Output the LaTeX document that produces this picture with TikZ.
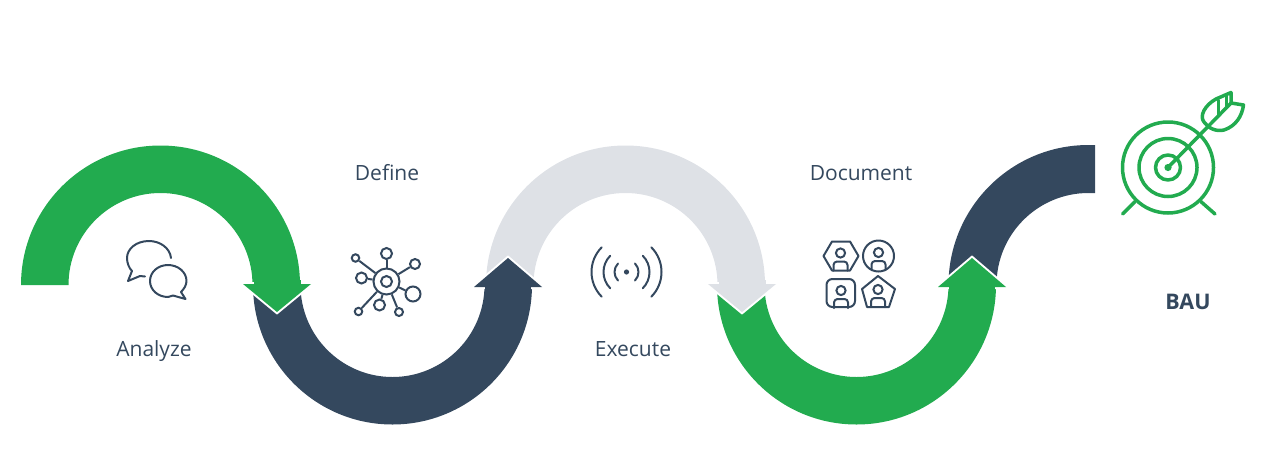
\documentclass[tikz,border=0pt]{standalone}
\usepackage{fontspec}
\setmainfont{Open Sans}
\definecolor{navy}{HTML}{34485E}
\definecolor{leaf}{HTML}{22AB4F}
\definecolor{mist}{HTML}{DEE1E6}
\tikzset{
  label text/.style={text=navy,font=\fontsize{21}{25}\selectfont,inner sep=0pt},
  icon/.style={draw=navy,line width=2pt,line cap=round,line join=round,fill=none},
  hub/.style={circle,draw=navy,line width=2pt,inner sep=0pt,fill=white},
  goal/.style={draw=leaf,line width=3.5pt,line cap=round,line join=round},
}
% #1 colour, #2 centre x, #3 +1 over the top / -1 under the bottom
\newcommand{\bendband}[3]{\fill[#1] (#2-139.5,285) arc[start angle=180,delta angle=#3*180,radius=139.5] -- (#2+92,285) arc[start angle=0,delta angle=#3*(-180),radius=92] -- cycle;}
\newcommand{\headdown}[2]{\path[draw=white,line width=4pt,line join=miter] (#2-34,284) -- (#2,312) -- (#2+34,284) -- cycle;
  \fill[#1] (#2-34,284) -- (#2,312) -- (#2+34,284) -- cycle;
  \fill[#1] (#2-23.5,280) rectangle (#2+23.5,286);}
\newcommand{\headup}[2]{\path[draw=white,line width=4pt,line join=miter] (#2-34,287) -- (#2,258) -- (#2+34,287) -- cycle;
  \fill[#1] (#2-34,287) -- (#2,258) -- (#2+34,287) -- cycle;
  \fill[#1] (#2-23,285) rectangle (#2+23,291);}
\newcommand{\person}[2]{\draw[icon] (#1,#2) circle[radius=4.6];
  \draw[icon] (#1-7,#2+17.6) -- (#1-7,#2+12) arc[start angle=180,end angle=270,radius=3.5] -- (#1+3.5,#2+8.5) arc[start angle=270,end angle=360,radius=3.5] -- (#1+7,#2+17.6);}
\begin{document}
\begin{tikzpicture}[x=1pt,y=-1pt]
\useasboundingbox (0,0) rectangle (1271,469);
% bands
\bendband{mist}{625.5}{1}
\bendband{navy}{392.5}{-1}
\bendband{leaf}{856.5}{-1}
\bendband{leaf}{160.5}{1}
\fill[navy] (948.5,285) arc[start angle=180,end angle=270,radius=140] -- (1095,145) -- (1095,193) -- (1088.5,193) arc[start angle=270,end angle=180,radius=92] -- cycle;
\headdown{leaf}{277}
\headup{navy}{508}
\headdown{mist}{742}
\headup{leaf}{972}
% labels
\node[label text] (analyze) at (154,351) {Analyze};
\node[label text] (define) at (387,173) {Define};
\node[label text] (execute) at (633,349) {Execute};
\node[label text] (document) at (861,173) {Document};
\node[label text,font=\fontsize{21.5}{25}\selectfont\bfseries] (bau) at (1188,302) {BAU};
% chat icon
\draw[icon] (171,258) .. controls (170,248) and (160,241) .. (149,241)
  .. controls (136,241) and (127,249) .. (127,258)
  .. controls (127,263) and (129,268) .. (132,271)
  -- (128,281) -- (140,276) -- (145,276.5);
\draw[icon] (168,265) .. controls (178,265) and (186.5,272) .. (186.5,281)
  .. controls (186.5,285) and (184,289) .. (181,292)
  -- (185.5,299) -- (173,295.5)
  .. controls (171,296.5) and (170,297) .. (168,297)
  .. controls (158,297) and (150,290) .. (150,281)
  .. controls (150,272) and (158,265) .. (168,265) -- cycle;
% network icon
\node[hub,minimum size=26pt] (nc) at (386.5,281.5) {};
\node[hub,minimum size=11pt] (nc2) at (386.5,281.5) {};
\node[hub,minimum size=11pt] (n1) at (386.5,253.5) {};
\node[hub,minimum size=10pt] (n2) at (415,264) {};
\node[hub,minimum size=15pt] (n3) at (413,294) {};
\node[hub,minimum size=8pt] (n4) at (399,312) {};
\node[hub,minimum size=11pt] (n5) at (379.5,305) {};
\node[hub,minimum size=7.5pt] (n6) at (358.5,311.5) {};
\node[hub,minimum size=11pt] (n7) at (361.5,278) {};
\node[hub,minimum size=7.5pt] (n8) at (355.5,258) {};
\foreach \n in {n1,n2,n3,n4,n5,n6,n7,n8} \draw[icon,line cap=butt] (nc) -- (\n);
% signal icon
\fill[navy] (626.5,272) circle[radius=2.6];
\foreach \r in {12,23,35}{
  \draw[icon] (626.5,272) ++(135:\r) arc[start angle=135,end angle=225,radius=\r];
  \draw[icon] (626.5,272) ++(-45:\r) arc[start angle=-45,end angle=45,radius=\r];
}
% people icon
\draw[icon] (823.5,256) -- (832,241.5) -- (850,241.5) -- (858.5,256) -- (850,270.5) -- (832,270.5) -- cycle;
\draw[icon] (878.5,256) circle[radius=15.5];
\draw[icon,rounded corners=6pt] (826.5,279) rectangle (855,307);
\draw[icon] (878,276) -- (895,289) -- (889,307) -- (867,307) -- (862,289) -- cycle;
\person{840.5}{253}
\person{878.5}{252.5}
\person{841}{290.5}
\person{878}{289.5}
% target icon
\draw[goal] (1168,167.5) circle[radius=45.5];
\draw[goal] (1168,167.5) circle[radius=29];
\draw[goal] (1168,167.5) circle[radius=12.5];
\fill[leaf] (1168,167.5) circle[radius=3.6];
\draw[goal] (1135,201.7) -- (1122.5,214);
\draw[goal] (1201,201.7) -- (1215,214);
\draw[goal] (1168,167.5) -- (1231,103);
\draw[goal] (1231,103) -- (1231,92.5) -- (1216,99)
  .. controls (1205,105) and (1199,116) .. (1204,122)
  .. controls (1208,128) and (1216,132) .. (1224,130)
  .. controls (1236,126) and (1242,116) .. (1243.5,105) -- cycle;
\draw[goal,line width=3pt] (1218,100) -- (1218,115);
\draw[goal,line width=3pt] (1226,95) -- (1226,107);
\end{tikzpicture}
\end{document}
